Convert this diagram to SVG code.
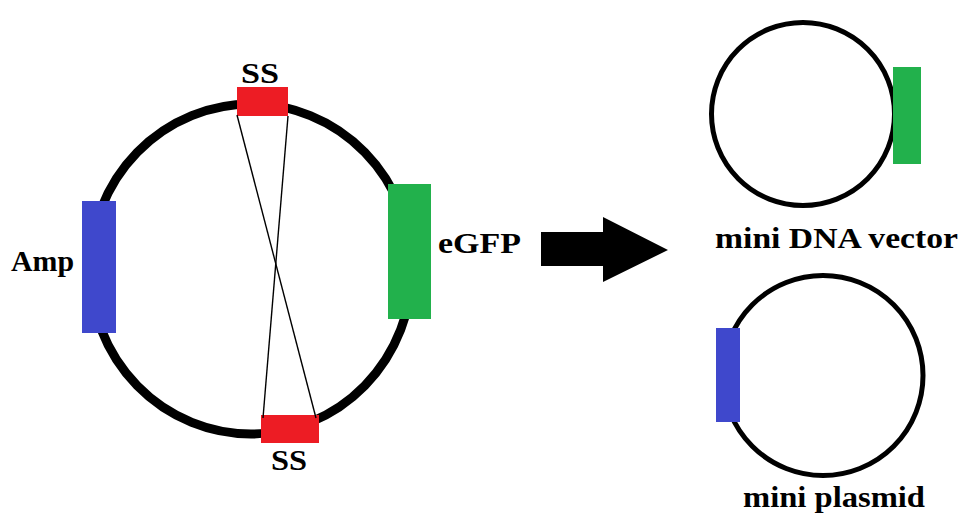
<svg xmlns="http://www.w3.org/2000/svg" width="963" height="517" viewBox="0 0 963 517">
<style>
.lbl{font-family:"Liberation Serif","Times New Roman",serif;font-weight:bold;font-size:29px;fill:#000}
.ring{fill:none;stroke:#000}
.ss{fill:#ED1C24}
.gfp{fill:#22B14C}
.amp{fill:#3F48CC}
.link{stroke:#000;stroke-width:1.4;fill:none}
</style>
<rect width="963" height="517" fill="#fff"/>
<g id="plasmid">
<ellipse class="ring" cx="251" cy="269" rx="161" ry="165" stroke-width="9"/>
<rect class="amp" x="82" y="201" width="34" height="132"/>
<rect class="gfp" x="388" y="184" width="43" height="135"/>
</g>
<g id="ss-top">
<rect class="ss" x="237" y="87" width="51" height="29"/>
<text class="lbl" x="241" y="83" textLength="38" lengthAdjust="spacingAndGlyphs">SS</text>
</g>
<g id="ss-bottom">
<rect class="ss" x="261" y="415" width="58" height="28"/>
<text class="lbl" x="271" y="470" textLength="36" lengthAdjust="spacingAndGlyphs">SS</text>
</g>
<g id="amp-label"><text class="lbl" x="11" y="271" textLength="63" lengthAdjust="spacingAndGlyphs">Amp</text></g>
<g id="egfp-label"><text class="lbl" x="438" y="253" textLength="83" lengthAdjust="spacingAndGlyphs">eGFP</text></g>
<g id="mini-vector">
<circle class="ring" cx="803" cy="114" r="91.5" stroke-width="5"/>
<rect class="gfp" x="893" y="67" width="28" height="97"/>
<text class="lbl" x="715" y="248" textLength="243" lengthAdjust="spacingAndGlyphs">mini DNA vector</text>
</g>
<g id="mini-plasmid">
<circle class="ring" cx="823" cy="375.5" r="100" stroke-width="5"/>
<rect class="amp" x="716" y="328" width="24" height="94"/>
<text class="lbl" x="743" y="507" textLength="182" lengthAdjust="spacingAndGlyphs">mini plasmid</text>
</g>
<g id="connectors">
<line class="link" x1="237" y1="115" x2="316" y2="418"/>
<line class="link" x1="288" y1="116" x2="263" y2="418"/>
<polygon points="541,232 603,232 603,217 668,250 603,282 603,266 541,266" fill="#000"/>
</g>
</svg>
